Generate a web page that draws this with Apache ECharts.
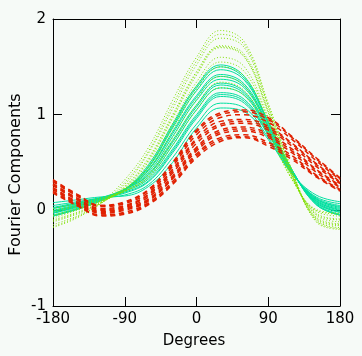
<!DOCTYPE html>
<html>
<head>
<meta charset="utf-8">
<script src="https://cdn.jsdelivr.net/npm/echarts@6/dist/echarts.min.js"></script>
<style>
html,body{margin:0;padding:0;background:#f6faf7;}
#c{width:362px;height:356px;}
</style>
</head>
<body>
<div id="c"></div>
<script>
// Degrees sampled along the x axis
var degrees = [-180, -150, -120, -90, -60, -30, 0, 30, 60, 90, 120, 150, 180];
var xTicks = [-180, -90, 0, 90, 180];
var yTicks = [-1, 0, 1, 2];

// Teal solid curves
var tealCurves = [
  [-0.06, 0.01, 0.10, 0.22, 0.48, 0.90, 1.30, 1.52, 1.40, 0.93, 0.42, 0.06, -0.05],
  [-0.06, 0.01, 0.10, 0.22, 0.46, 0.88, 1.28, 1.50, 1.38, 0.92, 0.42, 0.06, -0.05],
  [-0.05, 0.02, 0.11, 0.22, 0.45, 0.86, 1.25, 1.47, 1.36, 0.91, 0.42, 0.07, -0.04],
  [-0.03, 0.03, 0.11, 0.22, 0.43, 0.82, 1.20, 1.42, 1.32, 0.89, 0.41, 0.08, -0.02],
  [-0.03, 0.04, 0.12, 0.22, 0.42, 0.80, 1.18, 1.40, 1.30, 0.88, 0.41, 0.08, -0.02],
  [-0.02, 0.04, 0.12, 0.22, 0.40, 0.77, 1.15, 1.37, 1.28, 0.87, 0.41, 0.09, -0.01],
  [-0.01, 0.05, 0.12, 0.22, 0.38, 0.73, 1.10, 1.33, 1.24, 0.85, 0.40, 0.10, 0.00],
  [-0.01, 0.05, 0.13, 0.22, 0.37, 0.71, 1.08, 1.31, 1.22, 0.84, 0.40, 0.10, 0.01],
  [0.00, 0.06, 0.13, 0.21, 0.35, 0.68, 1.05, 1.28, 1.20, 0.83, 0.40, 0.11, 0.02],
  [0.02, 0.07, 0.13, 0.20, 0.33, 0.64, 1.00, 1.23, 1.16, 0.81, 0.39, 0.12, 0.03],
  [0.02, 0.07, 0.13, 0.19, 0.31, 0.62, 0.98, 1.21, 1.14, 0.80, 0.39, 0.12, 0.04],
  [0.03, 0.08, 0.13, 0.18, 0.30, 0.60, 0.96, 1.19, 1.12, 0.79, 0.39, 0.13, 0.05],
  [0.05, 0.09, 0.13, 0.16, 0.27, 0.55, 0.90, 1.12, 1.07, 0.76, 0.38, 0.14, 0.07],
  [0.08, 0.11, 0.14, 0.15, 0.25, 0.50, 0.86, 1.07, 1.03, 0.74, 0.38, 0.16, 0.09]
];

// Green dotted curves
var greenCurves = [
  [-0.18, -0.08, 0.08, 0.32, 0.66, 1.15, 1.60, 1.88, 1.76, 1.12, 0.42, -0.12, -0.20],
  [-0.17, -0.07, 0.07, 0.29, 0.62, 1.10, 1.56, 1.84, 1.73, 1.10, 0.41, -0.11, -0.19],
  [-0.15, -0.06, 0.07, 0.27, 0.60, 1.06, 1.52, 1.80, 1.70, 1.08, 0.40, -0.10, -0.18],
  [-0.12, -0.04, 0.08, 0.25, 0.55, 1.00, 1.45, 1.72, 1.63, 1.05, 0.38, -0.09, -0.16],
  [-0.11, -0.03, 0.08, 0.24, 0.53, 0.98, 1.43, 1.71, 1.61, 1.03, 0.37, -0.08, -0.15],
  [-0.10, -0.02, 0.08, 0.23, 0.51, 0.96, 1.41, 1.70, 1.60, 1.02, 0.37, -0.07, -0.14],
  [-0.08, 0.00, 0.09, 0.22, 0.47, 0.91, 1.34, 1.60, 1.50, 0.97, 0.36, -0.05, -0.12],
  [-0.06, 0.01, 0.10, 0.22, 0.45, 0.87, 1.30, 1.55, 1.45, 0.95, 0.35, -0.04, -0.10],
  [-0.05, 0.02, 0.10, 0.21, 0.42, 0.83, 1.26, 1.50, 1.40, 0.92, 0.35, -0.03, -0.09],
  [-0.02, 0.04, 0.11, 0.20, 0.38, 0.76, 1.16, 1.40, 1.30, 0.86, 0.33, -0.01, -0.06],
  [0.00, 0.05, 0.12, 0.20, 0.36, 0.72, 1.10, 1.34, 1.25, 0.83, 0.32, 0.00, -0.04],
  [0.02, 0.07, 0.13, 0.20, 0.34, 0.68, 1.05, 1.28, 1.20, 0.80, 0.32, 0.01, -0.03]
];

// Red dashed curves
var redCurves = [
  [0.32, 0.17, 0.05, 0.09, 0.22, 0.50, 0.84, 1.02, 1.05, 0.97, 0.77, 0.55, 0.34],
  [0.31, 0.16, 0.05, 0.08, 0.21, 0.48, 0.82, 1.00, 1.03, 0.95, 0.76, 0.54, 0.33],
  [0.30, 0.15, 0.04, 0.07, 0.19, 0.46, 0.79, 0.97, 1.00, 0.92, 0.74, 0.52, 0.32],
  [0.28, 0.13, 0.02, 0.05, 0.17, 0.43, 0.75, 0.93, 0.95, 0.88, 0.70, 0.49, 0.30],
  [0.27, 0.12, 0.01, 0.04, 0.16, 0.41, 0.73, 0.90, 0.93, 0.86, 0.69, 0.48, 0.29],
  [0.26, 0.11, 0.00, 0.03, 0.14, 0.39, 0.70, 0.88, 0.91, 0.84, 0.67, 0.46, 0.28],
  [0.24, 0.09, -0.01, 0.02, 0.12, 0.36, 0.66, 0.84, 0.87, 0.80, 0.64, 0.43, 0.26],
  [0.23, 0.08, -0.02, 0.01, 0.11, 0.34, 0.64, 0.82, 0.85, 0.78, 0.62, 0.42, 0.25],
  [0.22, 0.07, -0.03, 0.00, 0.10, 0.33, 0.62, 0.80, 0.83, 0.76, 0.60, 0.40, 0.24],
  [0.20, 0.06, -0.05, -0.02, 0.08, 0.30, 0.59, 0.76, 0.79, 0.71, 0.57, 0.37, 0.22],
  [0.19, 0.05, -0.05, -0.03, 0.07, 0.28, 0.57, 0.74, 0.77, 0.69, 0.55, 0.36, 0.21],
  [0.18, 0.05, -0.06, -0.04, 0.06, 0.27, 0.55, 0.72, 0.76, 0.67, 0.53, 0.35, 0.20]
];

var TEAL = '#00e0a0', GREEN = '#80e000', RED = '#e02000';
var FONT = 'DejaVu Sans';

function makeSeries(curves, color, lineType, width) {
  return curves.map(function (vals) {
    return {
      type: 'line',
      xAxisIndex: 0,
      yAxisIndex: 0,
      data: vals.map(function (v, i) { return [degrees[i], v]; }),
      smooth: 0.4,
      symbol: 'none',
      silent: true,
      lineStyle: { color: color, width: width, type: lineType }
    };
  });
}

var series = []
  .concat(makeSeries(tealCurves, TEAL, 'solid', 1))
  .concat(makeSeries(greenCurves, GREEN, [1, 2], 1))
  .concat(makeSeries(redCurves, RED, [5, 4], 1.5));

function xAx(pos, show) {
  return {
    type: 'value', position: pos, min: xTicks[0], max: xTicks[xTicks.length - 1], interval: 90,
    axisLine: { show: true, onZero: false, lineStyle: { color: '#000', width: 1 } },
    axisTick: { show: true, inside: true, length: 9, lineStyle: { color: '#000', width: 1 } },
    axisLabel: { show: show, color: '#000', fontFamily: FONT, fontSize: 15, margin: 6 },
    splitLine: { show: false }
  };
}
function yAx(pos, show) {
  return {
    type: 'value', position: pos, min: yTicks[0], max: yTicks[yTicks.length - 1], interval: 1,
    axisLine: { show: true, onZero: false, lineStyle: { color: '#000', width: 1 } },
    axisTick: { show: true, inside: true, length: 9, lineStyle: { color: '#000', width: 1 } },
    axisLabel: { show: show, color: '#000', fontFamily: FONT, fontSize: 15, margin: 7 },
    splitLine: { show: false }
  };
}

var chart = echarts.init(document.getElementById('c'), null, { renderer: 'canvas' });
chart.setOption({
  animation: false,
  backgroundColor: '#f6faf7',
  grid: { left: 53, right: 22, top: 19, bottom: 50, containLabel: false },
  xAxis: [xAx('bottom', true), xAx('top', false)],
  yAxis: [yAx('left', true), yAx('right', false)],
  graphic: [
    {
      type: 'text', x: 194, y: 341,
      style: { text: 'Degrees', font: '15px "DejaVu Sans"', fill: '#000',
        align: 'center', verticalAlign: 'middle', textAlign: 'center', textVerticalAlign: 'middle' }
    },
    {
      type: 'text', x: 15.5, y: 174.5, rotation: Math.PI / 2,
      style: { text: 'Fourier Components', font: '16px "DejaVu Sans"', fill: '#000',
        align: 'center', verticalAlign: 'middle', textAlign: 'center', textVerticalAlign: 'middle' }
    }
  ],
  series: series
});
</script>
</body>
</html>
